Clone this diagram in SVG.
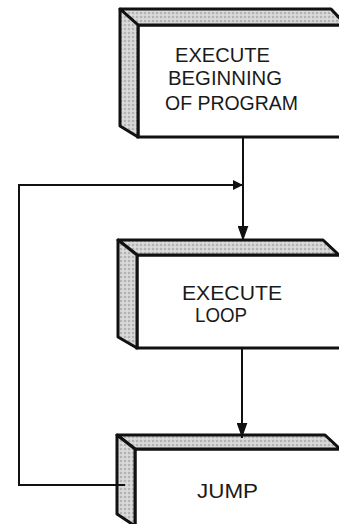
<svg xmlns="http://www.w3.org/2000/svg" width="339" height="524" viewBox="0 0 339 524">
<defs>
<pattern id="stip" width="4" height="4" patternUnits="userSpaceOnUse">
<rect width="4" height="4" fill="#d4d4d4"/>
<circle cx="1" cy="1" r="0.8" fill="#8a8a8a"/>
<circle cx="3" cy="3" r="0.6" fill="#f2f2f2"/>
</pattern>
<marker id="ah" viewBox="0 0 10 10" refX="10" refY="5" markerWidth="10" markerHeight="10" markerUnits="userSpaceOnUse" orient="auto">
<path d="M0,0 L10,5 L0,10 Z" fill="#111"/>
</marker>
<marker id="ahd" viewBox="0 0 14 10" refX="14" refY="5" markerWidth="15" markerHeight="11" markerUnits="userSpaceOnUse" orient="auto">
<path d="M0,0 L14,5 L0,10 Z" fill="#111"/>
</marker>
<style>
.bev{fill:url(#stip);stroke:#111;stroke-width:3;stroke-linejoin:round}
.face{fill:#fff;stroke:#111;stroke-width:3}
.t{font-family:"Liberation Sans",Arial,sans-serif;font-size:21px;fill:#1a1a1a}
.c{fill:none;stroke:#111;stroke-width:2}
</style>
</defs>
<rect width="339" height="524" fill="#fff"/>
<g id="node-begin">
<rect class="face" x="138" y="25" width="210" height="112"/>
<polygon class="bev" points="120,9 331,9 346,25 138,25"/>
<polygon class="bev" points="120,9 138,25 138,137 120,126"/>
<text class="t" x="175" y="62" textLength="95" lengthAdjust="spacingAndGlyphs">EXECUTE</text>
<text class="t" x="168" y="85" textLength="114" lengthAdjust="spacingAndGlyphs">BEGINNING</text>
<text class="t" x="165" y="110" textLength="133" lengthAdjust="spacingAndGlyphs">OF PROGRAM</text>
</g>
<g id="node-loop">
<rect class="face" x="137" y="255" width="210" height="93"/>
<polygon class="bev" points="118,240 323,240 339,255 137,255"/>
<polygon class="bev" points="118,240 137,255 137,348 118,337"/>
<text class="t" x="182" y="300" textLength="100" lengthAdjust="spacingAndGlyphs">EXECUTE</text>
<text class="t" x="195" y="322" textLength="52" lengthAdjust="spacingAndGlyphs">LOOP</text>
</g>
<g id="node-jump">
<rect class="face" x="135" y="449" width="212" height="80"/>
<polygon class="bev" points="117,435 325,435 340,449 135,449"/>
<polygon class="bev" points="117,435 135,449 135,526 117,514"/>
<text class="t" x="197" y="498" textLength="61" lengthAdjust="spacingAndGlyphs">JUMP</text>
</g>
<g id="connectors">
<line class="c" x1="243" y1="138" x2="243" y2="241" marker-end="url(#ahd)"/>
<polyline class="c" points="125,485 19,485 19,185 243,185" marker-end="url(#ah)"/>
<line class="c" x1="242" y1="349" x2="242" y2="438" marker-end="url(#ahd)"/>
</g>
</svg>
